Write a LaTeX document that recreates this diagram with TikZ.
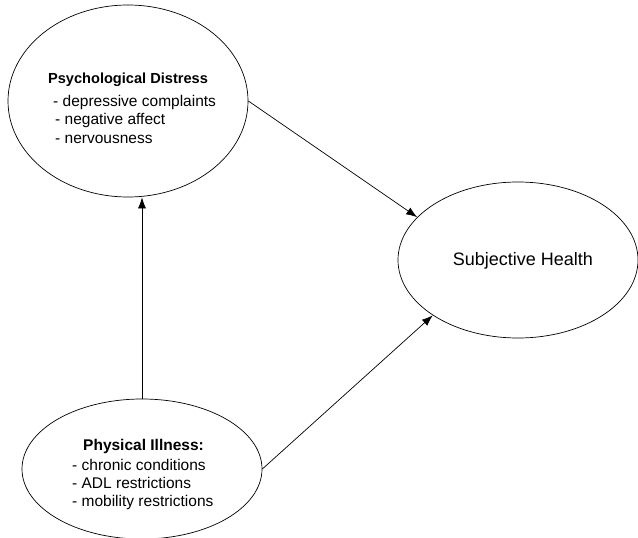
\documentclass[tikz,border=0pt]{standalone}
\usepackage{fontspec}
\setmainfont{Liberation Sans}
\usetikzlibrary{shapes.geometric,arrows.meta}
\begin{document}
\begin{tikzpicture}[x=1pt,y=-1pt,
  oval/.style={draw,ellipse,line width=0.7pt,inner sep=0pt},
  conn/.style={line width=0.7pt,-{Latex[length=11pt,width=8pt]}},
  txt/.style={inner sep=0pt,font=\fontsize{15.5}{18.5}\selectfont},
  ttl/.style={inner sep=0pt,font=\fontsize{15.5}{18.5}\selectfont\bfseries}]
\useasboundingbox (0,0) rectangle (638,538);
\node[oval,minimum width=240pt,minimum height=192pt] (pd) at (128,101) {};
\node[oval,minimum width=240pt,minimum height=156pt] (sh) at (518,260) {};
\node[oval,minimum width=240pt,minimum height=140pt] (pi) at (142,469) {};
% texts
\node[ttl,font=\fontsize{14.6}{18}\selectfont\bfseries] (pdt) at (128,80) {Psychological Distress};
\node[txt,anchor=west] (pd1) at (53,102) {- depressive complaints};
\node[txt,anchor=west] (pd2) at (55,120) {- negative affect};
\node[txt,anchor=west] (pd3) at (55,139) {- nervousness};
\node[inner sep=0pt,font=\fontsize{18}{21}\selectfont] (sht) at (523,261) {Subjective Health};
\node[ttl] (pit) at (143.5,446) {Physical Illness:};
\node[txt,anchor=west] (pi1) at (72,465) {- chronic conditions};
\node[txt,anchor=west] (pi2) at (72,483) {- ADL restrictions};
\node[txt,anchor=west] (pi3) at (72,502) {- mobility restrictions};
% connectors
\draw[conn] (pi.north) -- (pi.north |- pd.south);
\draw[conn] (pd.east) -- (sh.157);
\draw[conn] (pi.east) -- (sh.213);
\end{tikzpicture}
\end{document}
